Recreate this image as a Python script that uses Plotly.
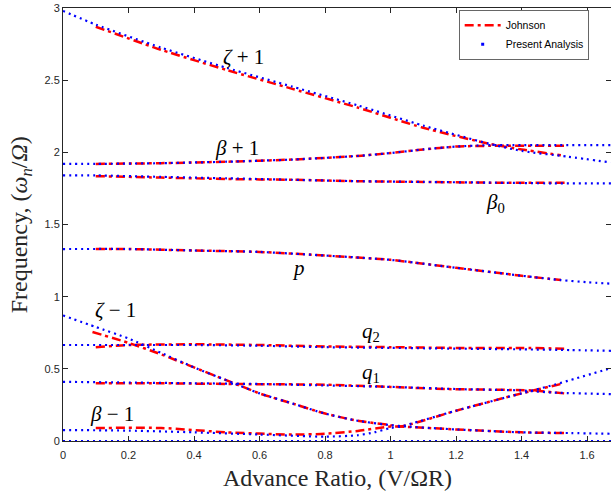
import plotly.graph_objects as go

# ---------------- data ----------------
# Present Analysis (blue dotted)
pa_zeta_p1_x = [0, 0.1, 0.3, 0.5, 0.7, 0.9, 1.1, 1.3, 1.4, 1.54, 1.673]
pa_zeta_p1_y = [2.98, 2.885, 2.725, 2.585, 2.455, 2.325, 2.185, 2.06, 2.01, 1.97, 1.93]

pa_beta_p1_x = [0, 0.1, 0.3, 0.5, 0.7, 0.9, 1.0, 1.1, 1.2, 1.3, 1.4, 1.5, 1.673]
pa_beta_p1_y = [1.92, 1.92, 1.925, 1.935, 1.95, 1.975, 1.995, 2.02, 2.04, 2.05, 2.05, 2.05, 2.05]

pa_beta0_x = [0, 0.1, 0.3, 0.5, 0.7, 0.9, 1.1, 1.3, 1.5, 1.673]
pa_beta0_y = [1.84, 1.84, 1.83, 1.82, 1.81, 1.80, 1.795, 1.79, 1.785, 1.785]

pa_p_x = [0, 0.2, 0.4, 0.6, 0.8, 1.0, 1.2, 1.4, 1.52, 1.6, 1.673]
pa_p_y = [1.33, 1.33, 1.32, 1.31, 1.285, 1.255, 1.20, 1.145, 1.115, 1.10, 1.09]

pa_zeta_m1_x = [0, 0.1, 0.2, 0.3, 0.4, 0.5, 0.6, 0.7, 0.8, 0.9, 1.0, 1.05, 1.2, 1.4, 1.55, 1.673]
pa_zeta_m1_y = [0.87, 0.79, 0.71, 0.61, 0.51, 0.42, 0.33, 0.26, 0.19, 0.14, 0.11, 0.10, 0.08, 0.06, 0.055, 0.05]

pa_q2_x = [0, 0.2, 0.4, 0.6, 0.8, 1.0, 1.2, 1.4, 1.55, 1.673]
pa_q2_y = [0.665, 0.665, 0.665, 0.66, 0.65, 0.645, 0.64, 0.635, 0.63, 0.625]

pa_q1_x = [0, 0.2, 0.4, 0.6, 0.8, 1.0, 1.2, 1.4, 1.5, 1.673]
pa_q1_y = [0.41, 0.405, 0.40, 0.395, 0.385, 0.375, 0.36, 0.35, 0.335, 0.325]

pa_beta_m1_x = [0, 0.2, 0.4, 0.6, 0.8, 0.9, 0.95, 1.0, 1.03, 1.2, 1.4, 1.5, 1.673]
pa_beta_m1_y = [0.076, 0.072, 0.06, 0.045, 0.03, 0.04, 0.06, 0.09, 0.10, 0.21, 0.33, 0.39, 0.505]

pa_zero_x = [0, 1.673]
pa_zero_y = [0.0, 0.0]

# Johnson (red dash-dot)
jo_zeta_p1_x = [0.1, 0.3, 0.5, 0.7, 0.9, 1.1, 1.3, 1.4, 1.52]
jo_zeta_p1_y = [2.87, 2.71, 2.57, 2.44, 2.31, 2.17, 2.06, 2.02, 1.98]

jo_beta_p1_x = [0.1, 0.3, 0.5, 0.7, 0.9, 1.0, 1.1, 1.2, 1.3, 1.54]
jo_beta_p1_y = [1.92, 1.925, 1.935, 1.95, 1.975, 1.995, 2.02, 2.04, 2.045, 2.045]

jo_beta0_x = [0.1, 0.3, 0.5, 0.7, 0.9, 1.1, 1.3, 1.54]
jo_beta0_y = [1.835, 1.825, 1.815, 1.81, 1.80, 1.795, 1.79, 1.79]

jo_p_x = [0.1, 0.2, 0.4, 0.6, 0.8, 1.0, 1.2, 1.4, 1.52]
jo_p_y = [1.33, 1.33, 1.32, 1.31, 1.285, 1.255, 1.20, 1.145, 1.115]

jo_zeta_m1_x = [0.09, 0.2, 0.3, 0.4, 0.5, 0.6, 0.7, 0.8, 0.9, 1.0, 1.03, 1.2, 1.4, 1.53]
jo_zeta_m1_y = [0.755, 0.68, 0.60, 0.51, 0.42, 0.33, 0.26, 0.19, 0.14, 0.11, 0.10, 0.21, 0.33, 0.40]

jo_q2_x = [0.1, 0.2, 0.4, 0.6, 0.8, 1.0, 1.2, 1.4, 1.53]
jo_q2_y = [0.65, 0.665, 0.67, 0.665, 0.655, 0.65, 0.645, 0.645, 0.64]

jo_q1_x = [0.1, 0.3, 0.5, 0.8, 1.0, 1.17, 1.43, 1.53]
jo_q1_y = [0.40, 0.40, 0.395, 0.39, 0.375, 0.36, 0.35, 0.33]

jo_beta_m1_x = [0.1, 0.3, 0.5, 0.7, 0.8, 0.9, 1.0, 1.03, 1.2, 1.4, 1.53]
jo_beta_m1_y = [0.09, 0.09, 0.06, 0.045, 0.05, 0.07, 0.10, 0.10, 0.08, 0.06, 0.055]

x_ticks = [0, 0.2, 0.4, 0.6, 0.8, 1.0, 1.2, 1.4, 1.6]
x_tick_labels = ["0", "0.2", "0.4", "0.6", "0.8", "1", "1.2", "1.4", "1.6"]
y_ticks = [0, 0.5, 1.0, 1.5, 2.0, 2.5, 3.0]
y_tick_labels = ["0", "0.5", "1", "1.5", "2", "2.5", "3"]

mode_labels = ["<i>ζ</i> + 1", "<i>β</i> + 1", "<i>β</i><sub>0</sub>", "<i>p</i>",
               "<i>ζ</i> − 1", "<i>q</i><sub>2</sub>", "<i>q</i><sub>1</sub>", "<i>β</i> − 1"]
mode_label_x = [0.55, 0.53, 1.32, 0.72, 0.16, 0.94, 0.94, 0.15]
mode_label_y = [2.66, 2.03, 1.65, 1.20, 0.91, 0.755, 0.47, 0.19]

# ---------------- figure ----------------
BLUE = "#0000FF"
RED = "#FF0000"
DOT = "2px,4px"
DASHDOT = "9px,4px,3px,4px"

fig = go.Figure()

blue_sets = [(pa_zeta_p1_x, pa_zeta_p1_y), (pa_beta_p1_x, pa_beta_p1_y),
             (pa_beta0_x, pa_beta0_y), (pa_p_x, pa_p_y),
             (pa_zeta_m1_x, pa_zeta_m1_y), (pa_q2_x, pa_q2_y),
             (pa_q1_x, pa_q1_y), (pa_beta_m1_x, pa_beta_m1_y),
             (pa_zero_x, pa_zero_y)]
red_sets = [(jo_zeta_p1_x, jo_zeta_p1_y), (jo_beta_p1_x, jo_beta_p1_y),
            (jo_beta0_x, jo_beta0_y), (jo_p_x, jo_p_y),
            (jo_zeta_m1_x, jo_zeta_m1_y), (jo_q2_x, jo_q2_y),
            (jo_q1_x, jo_q1_y), (jo_beta_m1_x, jo_beta_m1_y)]

for xs, ys in red_sets:
    fig.add_trace(go.Scatter(x=xs, y=ys, mode="lines", showlegend=False,
                             line=dict(color=RED, width=2.5, dash=DASHDOT,
                                       shape="spline", smoothing=0.6),
                             hoverinfo="skip"))
for xs, ys in blue_sets:
    fig.add_trace(go.Scatter(x=xs, y=ys, mode="lines", showlegend=False,
                             line=dict(color=BLUE, width=2.2, dash=DOT,
                                       shape="spline", smoothing=0.6),
                             hoverinfo="skip"))

# legend entries
fig.add_trace(go.Scatter(x=[None], y=[None], mode="lines", name="Johnson",
                         line=dict(color=RED, width=2.5, dash=DASHDOT)))
fig.add_trace(go.Scatter(x=[None], y=[None], mode="markers", name="Present Analysis",
                         marker=dict(color=BLUE, size=3, symbol="square")))

for txt, lx, ly in zip(mode_labels, mode_label_x, mode_label_y):
    fig.add_annotation(x=lx, y=ly, text=txt, showarrow=False,
                       font=dict(family="Liberation Serif", size=21, color="black"),
                       xanchor="center", yanchor="middle")

fig.add_annotation(xref="paper", yref="paper", x=0.5, y=-0.085,
                   text="Advance Ratio, (V/ΩR)", showarrow=False,
                   font=dict(family="Liberation Serif", size=24, color="#262626"),
                   xanchor="center", yanchor="middle")
fig.add_annotation(xref="paper", yref="paper", x=-0.077, y=0.5, textangle=-90,
                   text="Frequency, (<i>ω</i><sub><i>n</i></sub>/<i>Ω</i>)", showarrow=False,
                   font=dict(family="Liberation Serif", size=24, color="#262626"),
                   xanchor="center", yanchor="middle")

tickfont = dict(family="Liberation Sans", size=11, color="#262626")
fig.update_layout(
    width=611, height=493,
    margin=dict(l=63, r=0, t=8, b=52),
    paper_bgcolor="white", plot_bgcolor="white",
    showlegend=True,
    legend=dict(x=0.96, y=0.995, xanchor="right", yanchor="top",
                bgcolor="white", bordercolor="black", borderwidth=0.6,
                font=dict(family="Liberation Sans", size=10.5, color="black"),
                tracegroupgap=0, itemwidth=36),
    xaxis=dict(range=[0, 1.673], tickvals=x_ticks, ticktext=x_tick_labels,
               ticks="inside", ticklen=5, tickwidth=0.8, tickcolor="#262626",
               showline=True, linecolor="#262626", linewidth=1, mirror="ticks",
               showgrid=False, zeroline=False, tickfont=tickfont,
               ticklabelstandoff=4, layer="below traces"),
    yaxis=dict(range=[0, 3], tickvals=y_ticks, ticktext=y_tick_labels,
               ticks="inside", ticklen=5, tickwidth=0.8, tickcolor="#262626",
               showline=True, linecolor="#262626", linewidth=1, mirror=False,
               showgrid=False, zeroline=False, tickfont=tickfont,
               layer="below traces"),
    yaxis2=dict(range=[0, 3], tickvals=y_ticks, overlaying="y", side="right",
                ticks="inside", ticklen=5, tickwidth=0.8, tickcolor="#262626",
                showticklabels=False, showline=False, showgrid=False,
                zeroline=False, matches="y"),
)
fig.add_trace(go.Scatter(x=[None], y=[None], yaxis="y2", showlegend=False, hoverinfo="skip"))

fig.write_html("out.html", config={"displayModeBar": False},
               post_script="document.body.style.margin='0';document.body.style.overflow='hidden';")
